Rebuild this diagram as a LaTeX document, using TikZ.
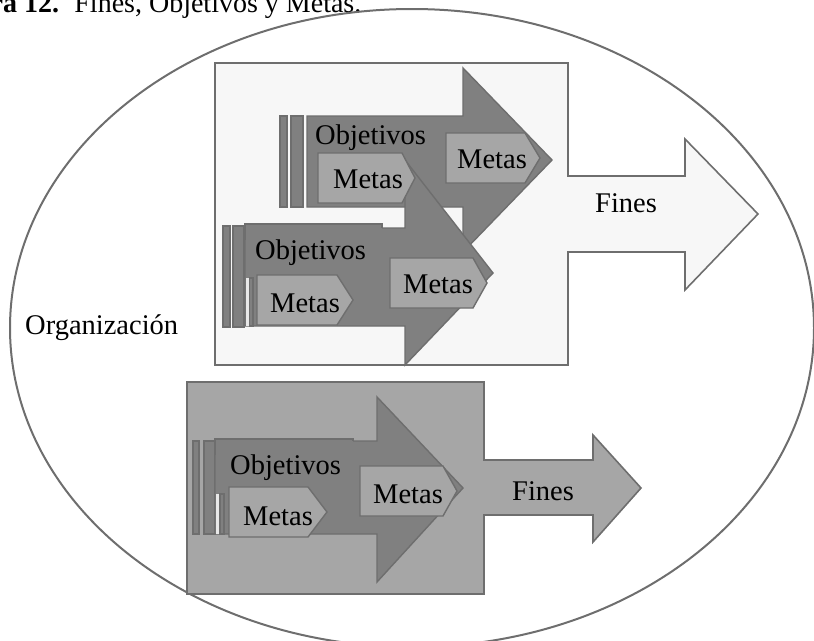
\documentclass[tikz,border=0pt]{standalone}
\usepackage{fontspec}
\setmainfont{Liberation Serif}

\definecolor{edge}{HTML}{6E6E6E}
\definecolor{paper}{HTML}{F7F7F7}
\definecolor{midgrey}{HTML}{A6A6A6}
\definecolor{darkgrey}{HTML}{808080}
\definecolor{gapgrey}{HTML}{E8E8E8}

\tikzset{
  outline/.style={draw=edge, line width=1.6pt, line join=miter},
  lightpanel/.style={outline, fill=paper},
  greypanel/.style={outline, fill=midgrey},
  arrowbody/.style={draw=edge, line width=1.4pt, fill=darkgrey},
  goalbar/.style={draw=edge, line width=1.2pt, fill=darkgrey},
  metashape/.style={draw=edge, line width=1.4pt, fill=midgrey},
  txt/.style={anchor=base west, inner sep=0pt, text=black,
              font=\fontsize{28.5}{34}\selectfont},
}

\begin{document}
\begin{tikzpicture}[x=1pt, y=-1pt]
\useasboundingbox (0,0) rectangle (814,640);

% caption
\node[txt, font=\fontsize{28}{34}\selectfont] (caption) at (-64,12)
  {\textbf{Figura 12.}\hspace{6pt} Fines, Objetivos y Metas.};

% organisation
\draw[draw=edge, line width=2pt] (412,328) ellipse [x radius=402pt, y radius=319pt];
\node[txt] (org) at (25,334) {Organización};

% ---------- upper panel with its Fines arrow ----------
\draw[lightpanel] (215,63) -- (568,63) -- (568,176) -- (685,176) -- (685,139)
  -- (758,214) -- (685,290) -- (685,252) -- (568,252) -- (568,365)
  -- (215,365) -- cycle;
\node[txt] (fines1) at (595,212) {Fines};

% first objective arrow
\draw[goalbar] (280,116) rectangle (287,207);
\draw[goalbar] (291,116) rectangle (303,207);
\draw[arrowbody] (307,116) -- (463,116) -- (463,68) -- (552,160) -- (463,252)
  -- (463,207) -- (307,207) -- cycle;

% second objective arrow
\draw[goalbar] (223,226) rectangle (230,327);
\draw[goalbar] (233,226) rectangle (244,327);
\draw[arrowbody] (245,228) -- (405,228) -- (405,160) -- (493,273) -- (405,365)
  -- (405,326) -- (245,326) -- cycle;
\fill[darkgrey] (245,224) rectangle (382,240);
\draw[draw=edge, line width=1.4pt] (245,240) -- (245,224) -- (382,224) -- (382,228);
\fill[gapgrey] (246,278) rectangle (249,325.5);
\draw[goalbar] (249.5,278) rectangle (253,326);

% goals of the first arrow
\draw[metashape] (446,133) -- (525,133) -- (540,158) -- (525,183) -- (446,183) -- cycle;
\draw[metashape] (318,153) -- (402,153) -- (415,178) -- (402,203) -- (318,203) -- cycle;
\node[txt] (obj1) at (315,144) {Objetivos};
\node[txt] (meta1a) at (457,168) {Metas};
\node[txt] (meta1b) at (333,188) {Metas};

% goals of the second arrow
\draw[metashape] (390,258) -- (473,258) -- (487,283) -- (473,308) -- (390,308) -- cycle;
\draw[metashape] (257,275) -- (337,275) -- (353,300) -- (337,325) -- (257,325) -- cycle;
\node[txt] (obj2) at (255,259) {Objetivos};
\node[txt] (meta2a) at (403,293) {Metas};
\node[txt] (meta2b) at (270,312) {Metas};

% ---------- lower panel with its Fines arrow ----------
\draw[greypanel] (187,382) -- (484,382) -- (484,460) -- (593,460) -- (593,435)
  -- (641,488) -- (593,542) -- (593,515) -- (484,515) -- (484,594)
  -- (187,594) -- cycle;
\node[txt] (fines2) at (512,500) {Fines};

% third objective arrow
\draw[goalbar] (193,441) rectangle (199,534);
\draw[goalbar] (204,441) rectangle (215,534);
\draw[arrowbody] (215,441) -- (377,441) -- (377,397) -- (463,488) -- (377,582)
  -- (377,534) -- (215,534) -- cycle;
\fill[darkgrey] (215,439) rectangle (353,455);
\draw[draw=edge, line width=1.4pt] (215,455) -- (215,439) -- (353,439) -- (353,441);
\fill[gapgrey] (216,494) rectangle (219.5,533.5);
\draw[goalbar] (220,494) rectangle (224,534);

\draw[metashape] (360,466) -- (443,466) -- (457,491) -- (443,516) -- (360,516) -- cycle;
\draw[metashape] (229,487) -- (308,487) -- (327,512) -- (308,537) -- (229,537) -- cycle;
\node[txt] (obj3) at (230,474) {Objetivos};
\node[txt] (meta3a) at (373,503) {Metas};
\node[txt] (meta3b) at (243,525) {Metas};
\end{tikzpicture}
\end{document}
